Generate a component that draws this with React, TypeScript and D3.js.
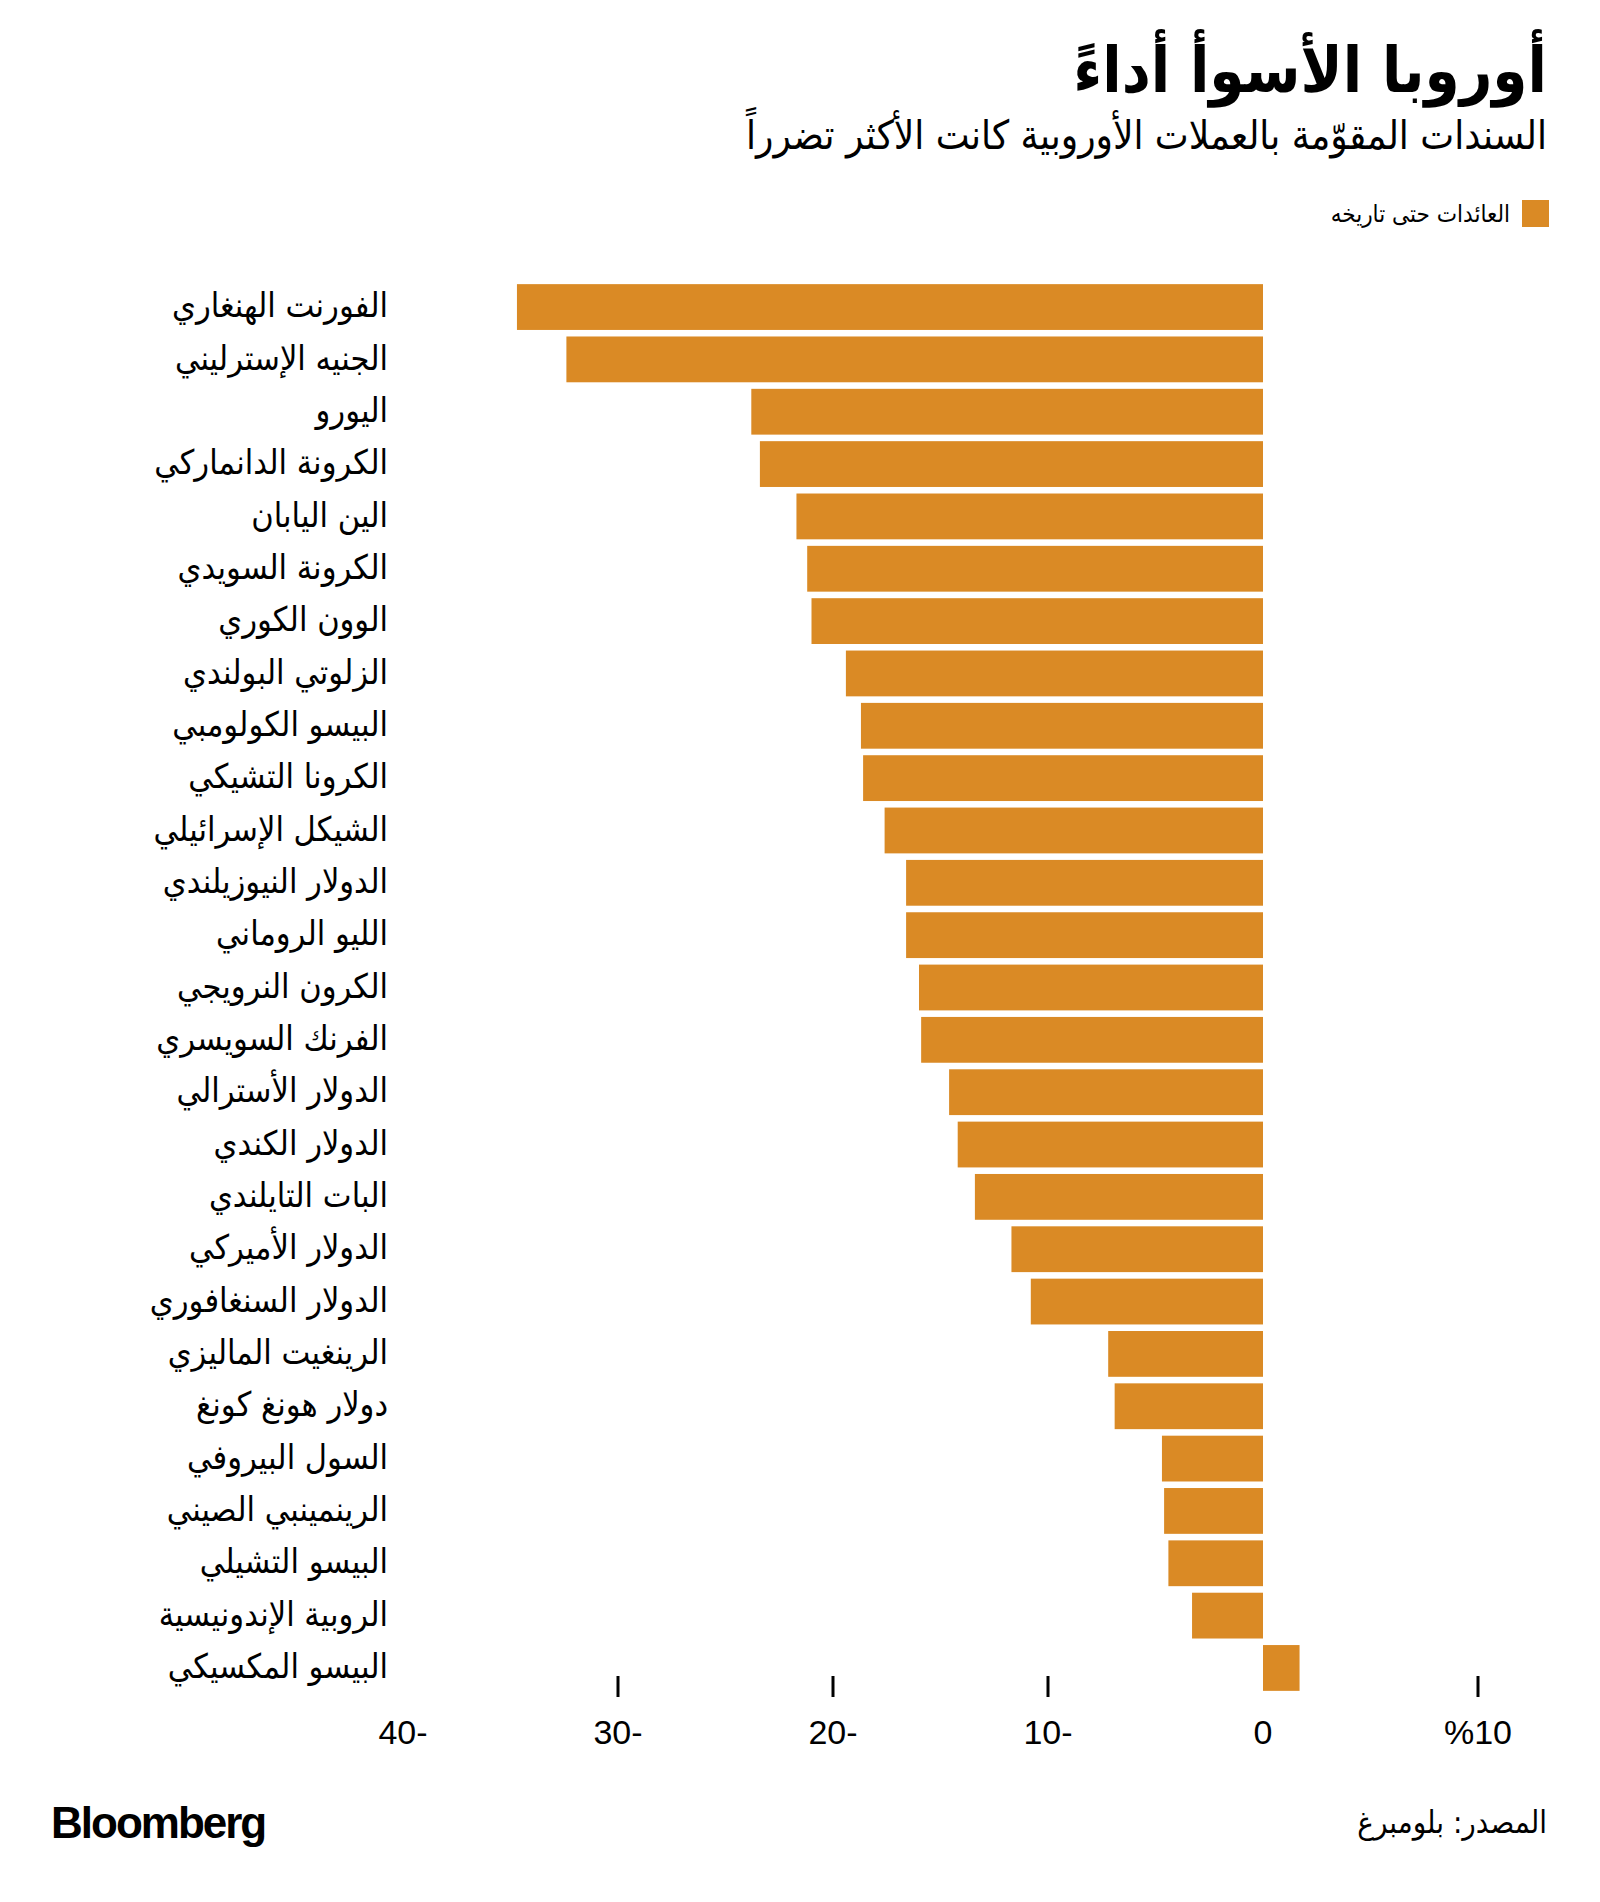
import React from 'react';
import * as d3 from 'd3';

// currencies, top to bottom
const currencies = [
  'الفورنت الهنغاري',
  'الجنيه الإسترليني',
  'اليورو',
  'الكرونة الدانماركي',
  'الين اليابان',
  'الكرونة السويدي',
  'الوون الكوري',
  'الزلوتي البولندي',
  'البيسو الكولومبي',
  'الكرونا التشيكي',
  'الشيكل الإسرائيلي',
  'الدولار النيوزيلندي',
  'الليو الروماني',
  'الكرون النرويجي',
  'الفرنك السويسري',
  'الدولار الأسترالي',
  'الدولار الكندي',
  'البات التايلندي',
  'الدولار الأميركي',
  'الدولار السنغافوري',
  'الرينغيت الماليزي',
  'دولار هونغ كونغ',
  'السول البيروفي',
  'الرينمينبي الصيني',
  'البيسو التشيلي',
  'الروبية الإندونيسية',
  'البيسو المكسيكي',
];

// year-to-date returns, %
const returnsYtd = [
  -34.7, -32.4, -23.8, -23.4, -21.7, -21.2, -21.0, -19.4, -18.7, -18.6, -17.6, -16.6, -16.6, -16.0,
  -15.9, -14.6, -14.2, -13.4, -11.7, -10.8, -7.2, -6.9, -4.7, -4.6, -4.4, -3.3, 1.7,
];

const tickValues = [-40, -30, -20, -10, 0, 10];
const tickLabels = ['40-', '30-', '20-', '10-', '0', '%10'];
const tickMarks = [-30, -20, -10, 10];

const W = 1600;
const H = 1902;
const ORANGE = '#DA8A25';
const AR = '"DejaVu Sans Condensed", "DejaVu Sans", sans-serif';

export default function App() {
  const x = d3.scaleLinear().domain([-40, 10]).range([403, 1478]);
  const y = d3.scaleBand<string>().domain(currencies).range([281, 1694]).paddingInner(0.125).paddingOuter(0.06);

  return (
    <svg width={W} height={H} style={{ position: 'absolute', left: 0, top: 0, background: '#fff' }}>
      <text x={1547} y={92} textAnchor="end" fontFamily={AR} fontWeight="bold" fontSize={63} fill="#000">
        أوروبا الأسوأ أداءً
      </text>
      <text x={1547} y={149} textAnchor="end" fontFamily={AR} fontSize={40} fill="#000">
        السندات المقوّمة بالعملات الأوروبية كانت الأكثر تضرراً
      </text>

      {/* legend */}
      <rect x={1522} y={200} width={27} height={27} fill={ORANGE} />
      <text x={1510} y={222} textAnchor="end" fontFamily={AR} fontSize={24} fill="#000">
        العائدات حتى تاريخه
      </text>

      {/* tick marks */}
      {tickMarks.map((t) => (
        <line key={t} x1={x(t)} x2={x(t)} y1={1676} y2={1697} stroke="#000" strokeWidth={3} />
      ))}

      {/* bars */}
      {currencies.map((c, i) => {
        const v = returnsYtd[i];
        return (
          <rect
            key={c}
            x={x(Math.min(0, v))}
            y={y(c)}
            width={Math.abs(x(v) - x(0))}
            height={y.bandwidth()}
            fill={ORANGE}
          />
        );
      })}

      {/* category labels */}
      {currencies.map((c) => (
        <text
          key={c}
          x={388}
          y={(y(c) ?? 0) + y.bandwidth() / 2}
          dy="0.3em"
          textAnchor="end"
          fontFamily={AR}
          fontSize={34}
          fill="#000"
        >
          {c}
        </text>
      ))}

      {/* axis labels */}
      {tickValues.map((t, i) => (
        <text
          key={t}
          x={x(t)}
          y={1744}
          textAnchor="middle"
          fontFamily="'Liberation Sans Narrow', 'Liberation Sans', sans-serif"
          fontSize={34}
          fill="#000"
        >
          {tickLabels[i]}
        </text>
      ))}

      {/* footer */}
      <text
        x={51}
        y={1838}
        fontFamily="'Liberation Sans', Arial, sans-serif"
        fontWeight="bold"
        fontSize={44}
        letterSpacing={-2}
        fill="#000"
      >
        Bloomberg
      </text>
      <text x={1547} y={1833} textAnchor="end" fontFamily={AR} fontSize={31} fill="#000">
        المصدر: بلومبرغ
      </text>
    </svg>
  );
}
